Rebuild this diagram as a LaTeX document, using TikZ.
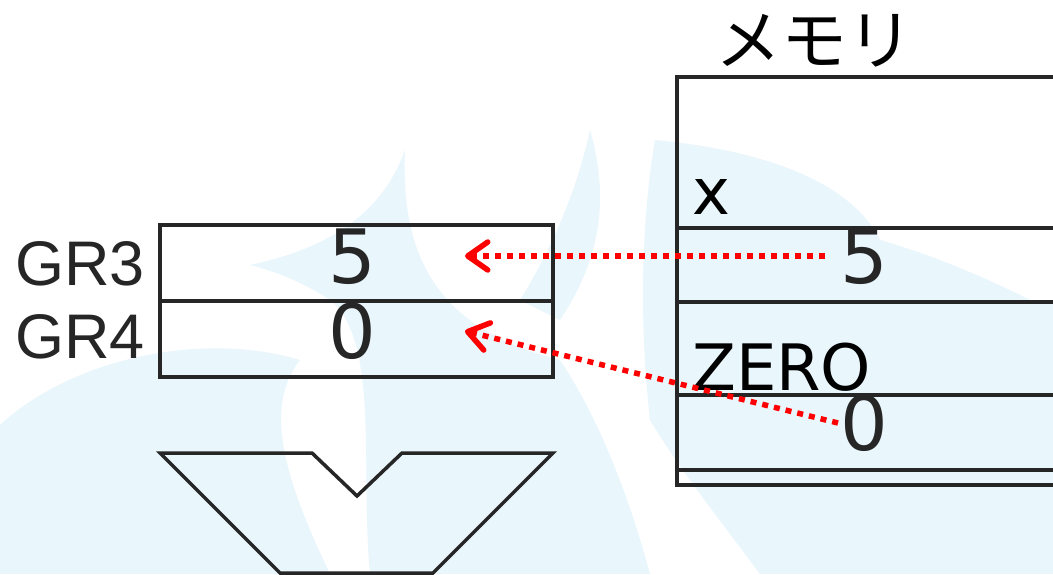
\documentclass[tikz,border=0pt]{standalone}
\usepackage{fontspec}
\setmainfont{DejaVu Sans}
\newfontfamily\regfont{Liberation Sans}
\newfontfamily\jpfont{Noto Sans CJK JP}
\usetikzlibrary{positioning, arrows.meta}
\definecolor{wmblue}{RGB}{233,246,252}
\definecolor{inkgray}{RGB}{38,38,38}
\definecolor{arrowred}{RGB}{255,0,0}

\begin{document}
\begin{tikzpicture}[x=1pt, y=-1pt,
        cell/.style={rectangle, draw=inkgray, line width=3.5pt, minimum width=393pt, minimum height=76pt, inner sep=0pt},
        memcell/.style={rectangle, draw=inkgray, line width=3.5pt, minimum width=420pt, anchor=north west, inner sep=0pt},
        regname/.style={anchor=base west, inner sep=0pt, text=inkgray, font=\regfont\fontsize{63}{63}\selectfont},
        valtext/.style={anchor=base, inner sep=0pt, text=inkgray, font=\fontsize{75}{75}\selectfont},
        memlabel/.style={anchor=base west, inner sep=0pt, font=\fontsize{64}{64}\selectfont},
        copyarrow/.style={draw=arrowred, line width=5.5pt, dash pattern=on 6pt off 6pt, -{Straight Barb[length=20pt, width=28pt, round]}},
        watermark/.style={fill=wmblue, draw=none}
    ]
    \useasboundingbox (0,0) rectangle (1053,574);
    \fill[white] (0,0) rectangle (1053,574);

    % faint background
    \fill[watermark] (0,425) .. controls (70,360) and (200,330) .. (300,360) .. controls (260,410) and (290,490) .. (330,574) -- (0,574) -- cycle;
    \fill[watermark] (405,150) .. controls (400,260) and (440,330) .. (560,360) .. controls (600,420) and (630,500) .. (650,574) -- (370,574) .. controls (360,470) and (380,340) .. (330,300) .. controls (300,280) and (270,270) .. (250,265) .. controls (320,250) and (380,220) .. (405,150) -- cycle;
    \fill[watermark] (590,130) .. controls (575,200) and (545,260) .. (520,300) -- (560,320) .. controls (600,260) and (610,200) .. (590,130) -- cycle;
    \fill[watermark] (655,140) .. controls (760,150) and (850,180) .. (880,240) .. controls (950,260) and (1010,290) .. (1030,300) -- (1053,300) -- (1053,574) -- (760,574) .. controls (720,520) and (680,470) .. (650,420) .. controls (640,330) and (640,230) .. (655,140) -- cycle;

    % registers
    \node[cell] (gr3) at (356.5,263) {};
    \node[cell] (gr4) at (356.5,339) {};
    \node[regname] (gr3name) at (15,285) {GR3};
    \node[regname] (gr4name) at (15,358) {GR4};
    \node[valtext] (gr3val) at (352,283) {5};
    \node[valtext] (gr4val) at (352,358) {0};

    % memory
    \node[anchor=base, inner sep=0pt, font=\jpfont\fontsize{66}{66}\selectfont] (memtitle) at (814,64) {メモリ};
    \node[memcell, minimum height=151pt] (memx) at (675,75) {};
    \node[memcell, minimum height=74pt] (memxval) at (675,226) {};
    \node[memcell, minimum height=93pt] (memzero) at (675,300) {};
    \node[memcell, minimum height=75pt] (memzeroval) at (675,393) {};
    \node[memcell, minimum height=15pt] (memend) at (675,468) {};
    \node[memlabel] (xname) at (692,214) {x};
    \node[memlabel] (zeroname) at (692,390) {ZERO};
    \node[valtext] (xval) at (864,283) {5};
    \node[valtext] (zeroval) at (864,450) {0};

    % loads
    \coordinate (xsrc) at (825,256);
    \coordinate (gr3in) at (465,256);
    \coordinate (zerosrc) at (838,423);
    \coordinate (gr4in) at (465,331);
    \draw[copyarrow] (xsrc) -- (gr3in);
    \draw[copyarrow] (zerosrc) -- (gr4in);

    % arrow shape below
    \draw[draw=inkgray, line width=3.5pt] (160,453) -- (312,453) -- (357,496) -- (402,453) -- (553,453) -- (433,573) -- (280,573) -- cycle;
\end{tikzpicture}
\end{document}
